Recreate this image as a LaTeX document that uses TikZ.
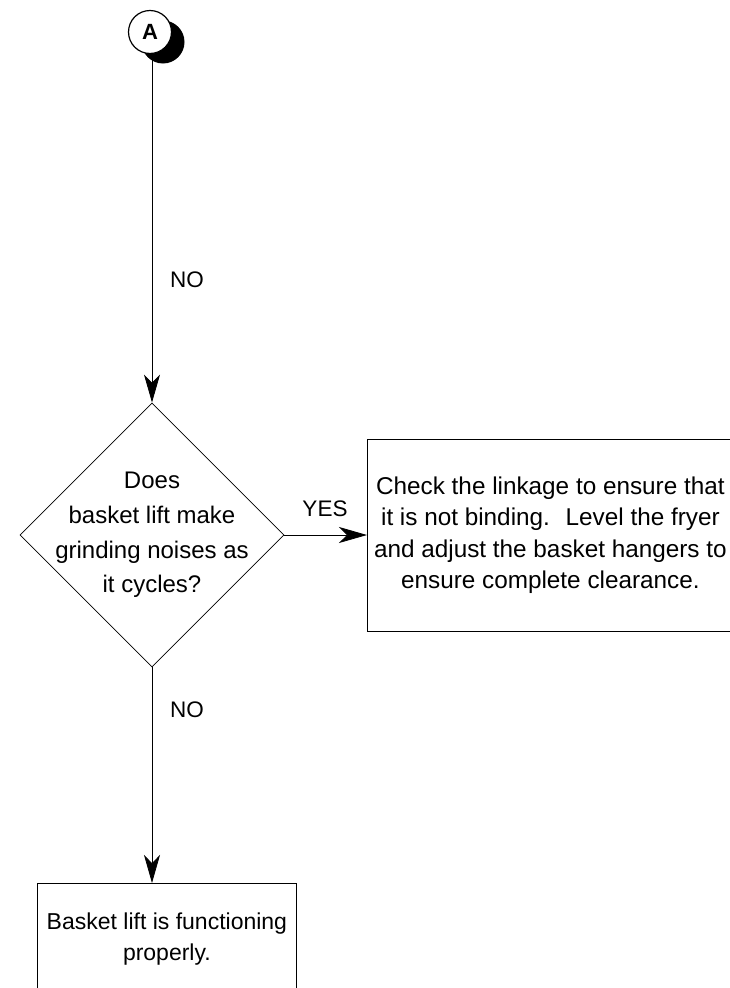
\documentclass[tikz,border=0pt]{standalone}
\usepackage{fontspec}
\setmainfont{Liberation Sans}
\usetikzlibrary{shapes.geometric,arrows.meta,positioning}

\begin{document}
\begin{tikzpicture}[x=1pt, y=-1pt,
    conn/.style={draw, line width=0.8pt},
    arr/.style={conn, -{Stealth[length=28pt,width=16pt,inset=8pt]}},
    decision/.style={diamond, draw, line width=0.8pt, inner sep=0pt,
      minimum width=264pt, minimum height=264pt},
    block/.style={rectangle, draw, line width=0.8pt, align=center,
      font=\fontsize{24.3}{31.5}\selectfont},
    lbl/.style={font=\fontsize{22.5}{26}\selectfont}]
  \useasboundingbox (0,0) rectangle (730,988);

  \node[circle, fill=black, minimum size=43pt, inner sep=0pt] (Ash) at (163,42) {};
  \node[circle, draw, fill=white, line width=1.2pt, minimum size=43pt, inner sep=0pt,
    font=\bfseries\fontsize{22}{24}\selectfont] (A) at (150,32) {A};

  \node[decision] (dec) at (152,535) {};
  \node[align=center, font=\fontsize{24}{34.7}\selectfont] (q) at (dec)
    {Does\\basket lift make\\grinding noises as\\it cycles?};

  \node[block, minimum width=366pt, minimum height=192pt, anchor=north west] (chk) at (367,439)
    {Check the linkage to ensure that\\it is not binding.~ Level the fryer\\and adjust the basket hangers to\\ensure complete clearance.};
  \node[block, minimum width=259pt, minimum height=112pt, anchor=north west,
    font=\fontsize{23}{31}\selectfont] (ok) at (37,883)
    {Basket lift is functioning\\properly.};

  \node[lbl] (no1) at (187,280) {NO};
  \node[lbl] (yes) at (325,509) {YES};
  \node[lbl] (no2) at (187,710) {NO};

  \draw[arr] (A.south -| dec.north) -- (dec.north);
  \draw[arr] (dec.east) -- (dec.east -| chk.west);
  \draw[arr] (dec.south) -- (dec.south |- ok.north);
\end{tikzpicture}
\end{document}
